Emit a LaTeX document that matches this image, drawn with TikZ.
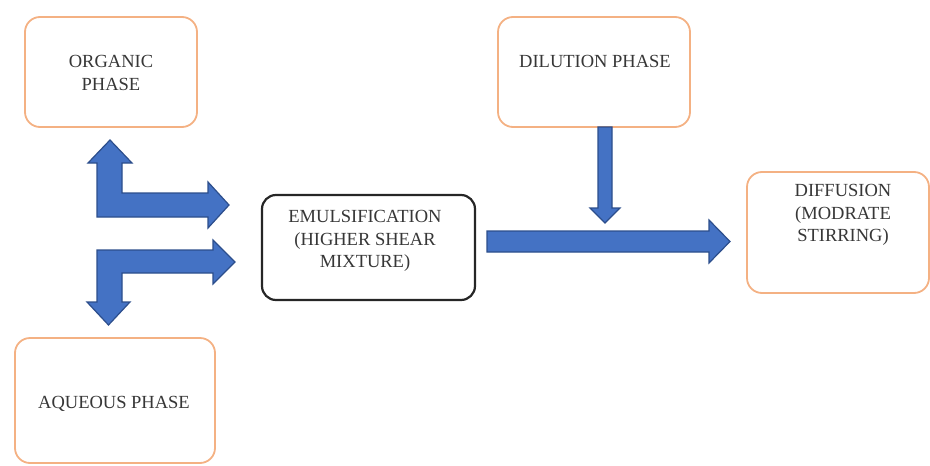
\documentclass[tikz,border=0pt]{standalone}
\usepackage{fontspec}
\setmainfont{Liberation Serif}
\begin{document}
\begin{tikzpicture}[x=1pt,y=-1pt,
  obox/.style={draw={rgb,255:red,244;green,177;blue,131}, line width=1.8pt, rounded corners=15pt, fill=white, inner sep=0pt},
  kbox/.style={draw=black!85, line width=2.2pt, rounded corners=14pt, fill=white, inner sep=0pt},
  txt/.style={align=center, font=\fontsize{18.5}{22.5}\selectfont, text={rgb,255:red,55;green,55;blue,55}, inner sep=0pt},
  barrow/.style={fill={rgb,255:red,68;green,114;blue,196}, draw={rgb,255:red,44;green,78;blue,140}, line width=1.2pt, line join=miter}
]
\useasboundingbox (0,0) rectangle (930,466);
% boxes
\node[obox, minimum width=172pt, minimum height=110pt] (org) at (111,72) {};
\node[obox, minimum width=200pt, minimum height=125pt] (aq) at (115,400.5) {};
\node[obox, minimum width=192pt, minimum height=110pt] (dil) at (594,72) {};
\node[obox, minimum width=182pt, minimum height=121pt] (dif) at (838,232.5) {};
\node[kbox, minimum width=213pt, minimum height=105pt] (emu) at (368.5,247.5) {};
% texts
\node[txt] (orgT) at (111,73) {ORGANIC\\PHASE};
\node[txt] (aqT) at (114,404) {AQUEOUS PHASE};
\node[txt] (dilT) at (595,61) {DILUTION PHASE};
\node[txt] (difT) at (843,215) {DIFFUSION\\(MODRATE\\STIRRING)};
\node[txt] (emuT) at (365,241) {EMULSIFICATION\\(HIGHER SHEAR\\MIXTURE)};
% block arrows
\draw[barrow] (487,231) -- (709,231) -- (709,220) -- (730,241.5) -- (709,263) -- (709,252) -- (487,252) -- cycle;
\draw[barrow] (598,127) -- (612,127) -- (612,208) -- (620,208) -- (605,223) -- (590,208) -- (598,208) -- cycle;
\draw[barrow] (97,217) -- (97,163) -- (88,163) -- (110,140) -- (132,163) -- (122,163) -- (122,193) -- (208,193) -- (208,182) -- (229,205) -- (208,228) -- (208,217) -- cycle;
\draw[barrow] (97,250) -- (213,250) -- (213,240) -- (235,262) -- (213,284) -- (213,273) -- (122,273) -- (122,302) -- (130,302) -- (108.5,325) -- (87,302) -- (97,302) -- cycle;
\end{tikzpicture}
\end{document}
